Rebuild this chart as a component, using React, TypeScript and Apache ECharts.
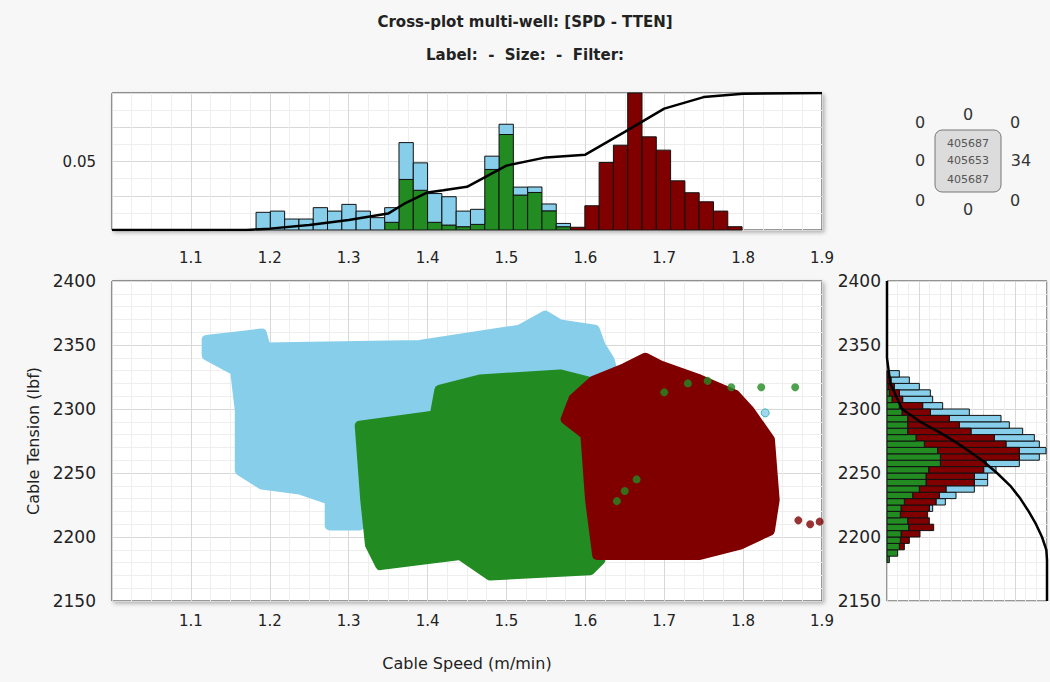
import React, { useEffect, useRef } from 'react'
import * as echarts from 'echarts'

// top histogram: SPD bins (m/min)
const spdBinStart = 1.1826
const spdBinWidth = 0.01812
const spdGreen = [0, 0, 0, 0, 0, 0, 0, 0, 0, 0.0056, 0.0369, 0.029, 0.0056, 0.0036, 0.0024, 0.0041, 0.0442, 0.0697, 0.0255, 0.0274, 0.014, 0.0024, 0, 0, 0, 0, 0, 0, 0, 0, 0, 0, 0, 0]
const spdBlue = [0.0129, 0.0138, 0.008, 0.008, 0.0163, 0.0138, 0.0187, 0.0138, 0.009, 0.0107, 0.0269, 0.02, 0.021, 0.0207, 0.0114, 0.011, 0.0097, 0.0075, 0.0058, 0.004, 0.005, 0.0024, 0, 0, 0, 0, 0, 0, 0, 0, 0, 0, 0, 0]
const spdRed = [0, 0, 0, 0, 0, 0, 0, 0, 0, 0, 0, 0, 0, 0, 0, 0, 0, 0, 0, 0, 0, 0, 0.002, 0.0177, 0.0493, 0.0619, 0.1, 0.068, 0.0583, 0.0359, 0.0272, 0.0206, 0.0138, 0.0024]
const spdCdf = [[1.0, 0], [1.17, 0], [1.2, 0.001], [1.25, 0.0036], [1.3, 0.0073], [1.35, 0.012], [1.37, 0.019], [1.4, 0.0274], [1.42, 0.029], [1.45, 0.0315], [1.5, 0.047], [1.55, 0.053], [1.6, 0.055], [1.65, 0.0716], [1.7, 0.0886], [1.75, 0.097], [1.8, 0.0995], [1.9, 0.1]]

// right histogram: TTEN bins (lbf), cumulative ends (green, +red, +blue)
const ttenBins = [2180, 2185, 2190, 2195, 2200, 2205, 2210, 2215, 2220, 2225, 2230, 2235, 2240, 2245, 2250, 2255, 2260, 2265, 2270, 2275, 2280, 2285, 2290, 2295, 2300, 2305, 2310, 2315, 2320, 2325]
const ttenGreen = [7, 32, 37, 40, 42, 65, 62, 40, 42, 52, 77, 97, 117, 117, 125, 160, 160, 152, 112, 87, 62, 62, 62, 45, 37, 15, 7, 3, 0, 0]
const ttenRedEnd = [7, 32, 52, 67, 99, 140, 127, 122, 127, 147, 157, 177, 262, 262, 290, 297, 397, 397, 357, 322, 252, 217, 187, 130, 107, 47, 37, 22, 12, 7]
const ttenBlueEnd = [7, 32, 52, 67, 99, 140, 127, 122, 137, 175, 207, 262, 302, 302, 327, 397, 457, 477, 457, 442, 407, 367, 342, 247, 167, 137, 130, 97, 67, 37]
const ttenCdf = [[2400, 0], [2340, 0], [2320, 10], [2300, 45], [2290, 100], [2280, 170], [2270, 230], [2260, 285], [2250, 330], [2240, 370], [2230, 400], [2220, 425], [2210, 447], [2200, 465], [2190, 478], [2182, 480], [2150, 480]]

// cross-plot cloud outlines (SPD, TTEN)
const blueCloud = [[1.12, 2354], [1.19, 2359], [1.195, 2348], [1.39, 2350], [1.517, 2362], [1.549, 2373], [1.568, 2366], [1.612, 2362], [1.619, 2350], [1.631, 2338], [1.637, 2323], [1.6, 2300], [1.4, 2260], [1.314, 2209], [1.276, 2209], [1.276, 2229], [1.238, 2237], [1.19, 2241], [1.162, 2252], [1.162, 2299], [1.156, 2330], [1.12, 2342]]
const greenCloud = [[1.314, 2287], [1.409, 2295], [1.415, 2315], [1.466, 2323], [1.568, 2327], [1.619, 2319], [1.619, 2182], [1.606, 2174], [1.479, 2170], [1.441, 2186], [1.34, 2178], [1.327, 2194], [1.321, 2229]]
const redCloud = [[1.585, 2308], [1.61, 2322], [1.65, 2332], [1.676, 2340], [1.695, 2334], [1.745, 2323], [1.79, 2311], [1.808, 2299], [1.834, 2276], [1.84, 2229], [1.834, 2205], [1.796, 2194], [1.745, 2186], [1.615, 2186], [1.606, 2229], [1.6, 2280], [1.575, 2292]]
const redDots = [[1.87, 2213], [1.885, 2210], [1.897, 2212], [1.82, 2218]]
const greenDots = [[1.65, 2236], [1.665, 2245], [1.64, 2228], [1.73, 2320], [1.755, 2322], [1.785, 2317], [1.823, 2317], [1.866, 2317], [1.7, 2313]]
const blueDots = [[1.828, 2297]]

const BLUE = '#87ceeb'
const GREEN = '#228b22'
const RED = '#800000'
const FONT = 'DejaVu Sans'

const App: React.FC = () => {
  const ref = useRef<HTMLDivElement>(null)

  useEffect(() => {
    if (!ref.current) return
    const chart = echarts.init(ref.current, undefined, { renderer: 'svg' })

    // stacked bins for top histogram
    const topBars = (vals: number[], bases: number[][]) =>
      vals.map((v, i) => {
        const base = bases.reduce((s, b) => s + b[i], 0)
        const x0 = spdBinStart + i * spdBinWidth
        return [x0, x0 + spdBinWidth, base, base + v]
      }).filter(d => d[3] > d[2])

    const topRender = (color: string) => (params: any, api: any) => {
      const p0 = api.coord([api.value(0), api.value(3)])
      const p1 = api.coord([api.value(1), api.value(2)])
      return { type: 'rect', shape: { x: p0[0], y: p0[1], width: p1[0] - p0[0], height: p1[1] - p0[1] }, style: { fill: color, stroke: '#111', lineWidth: 1 } }
    }

    const rightBars = (ends: number[], starts: number[]) =>
      ttenBins.map((y, i) => [y, y + 5, starts[i], ends[i]]).filter(d => d[3] > d[2])

    const rightRender = (color: string) => (params: any, api: any) => {
      const p0 = api.coord([api.value(2), api.value(1)])
      const p1 = api.coord([api.value(3), api.value(0)])
      return { type: 'rect', shape: { x: p0[0], y: p0[1], width: p1[0] - p0[0], height: p1[1] - p0[1] }, style: { fill: color, stroke: '#111', lineWidth: 1 } }
    }

    const cloud = (pts: number[][], color: string) => ({
      type: 'custom', xAxisIndex: 1, yAxisIndex: 1, data: [[pts[0][0], pts[0][1]]],
      renderItem: (params: any, api: any) => ({
        type: 'polygon',
        shape: { points: pts.map(p => api.coord(p)) },
        style: { fill: color, stroke: color, lineWidth: 10, lineJoin: 'round' },
      }),
    })

    const minor = { show: true, lineStyle: { color: '#eeeeee' } }
    const split = { show: true, lineStyle: { color: '#d8d8d8' } }
    const lbl = { color: '#222', fontFamily: FONT, fontSize: 15 }

    chart.setOption({
      animation: false,
      backgroundColor: '#f7f7f7',
      title: [
        { text: 'Cross-plot multi-well: [SPD - TTEN]', left: 'center', top: 9, textStyle: { fontFamily: FONT, fontSize: 15, fontWeight: 'bold', color: '#222' } },
        { text: 'Label:  -  Size:  -  Filter:', left: 'center', top: 42, textStyle: { fontFamily: FONT, fontSize: 15, fontWeight: 'bold', color: '#222' } },
      ],
      grid: [
        { left: 112, top: 93, width: 710, height: 137, show: true, backgroundColor: '#fff', borderColor: '#333', shadowColor: 'rgba(0,0,0,0.3)', shadowBlur: 4, shadowOffsetX: 2, shadowOffsetY: 2 },
        { left: 112, top: 281, width: 710, height: 320, show: true, backgroundColor: '#fff', borderColor: '#333', shadowColor: 'rgba(0,0,0,0.3)', shadowBlur: 4, shadowOffsetX: 2, shadowOffsetY: 2 },
        { left: 887, top: 281, width: 160, height: 320, show: true, backgroundColor: '#fff', borderColor: '#333' },
      ],
      xAxis: [
        { gridIndex: 0, type: 'value', min: 1.0, max: 1.9, interval: 0.1, axisLine: { show: false }, axisTick: { show: false }, splitLine: split, minorTick: { show: false, splitNumber: 4 }, minorSplitLine: minor, axisLabel: { ...lbl, margin: 20, formatter: (v: number) => (v < 1.05 ? '' : v.toFixed(1)) } },
        { gridIndex: 1, type: 'value', min: 1.0, max: 1.9, interval: 0.1, name: 'Cable Speed (m/min)', nameLocation: 'middle', nameGap: 54, nameTextStyle: { ...lbl, fontSize: 16 }, axisLine: { show: false }, axisTick: { show: false }, splitLine: split, minorTick: { show: false, splitNumber: 4 }, minorSplitLine: minor, axisLabel: { ...lbl, margin: 12, formatter: (v: number) => (v < 1.05 ? '' : v.toFixed(1)) } },
        { gridIndex: 2, type: 'value', min: 0, max: 480, interval: 96, axisLine: { show: false }, axisTick: { show: false }, axisLabel: { show: false }, splitLine: split, minorTick: { show: false, splitNumber: 3 }, minorSplitLine: minor },
      ],
      yAxis: [
        { gridIndex: 0, type: 'value', min: 0, max: 0.1, interval: 0.025, axisLine: { show: false }, axisTick: { show: false }, splitLine: split, minorTick: { show: false, splitNumber: 2 }, minorSplitLine: minor, axisLabel: { ...lbl, margin: 16, formatter: (v: number) => (Math.abs(v - 0.05) < 1e-6 ? '0.05' : '') } },
        { gridIndex: 1, type: 'value', min: 2150, max: 2400, interval: 50, name: 'Cable Tension (lbf)', nameLocation: 'middle', nameGap: 68, nameTextStyle: { ...lbl, fontSize: 16 }, axisLine: { show: false }, axisTick: { show: false }, splitLine: split, minorTick: { show: false, splitNumber: 5 }, minorSplitLine: minor, axisLabel: { ...lbl, fontSize: 17, margin: 16, formatter: (v: number) => String(v) } },
        { gridIndex: 2, type: 'value', min: 2150, max: 2400, interval: 50, axisLine: { show: false }, axisTick: { show: false }, splitLine: split, minorTick: { show: false, splitNumber: 5 }, minorSplitLine: minor, axisLabel: { ...lbl, fontSize: 17, margin: 6, formatter: (v: number) => String(v) } },
      ],
      series: [
        { type: 'custom', xAxisIndex: 0, yAxisIndex: 0, encode: { x: [0, 1], y: [2, 3] }, data: topBars(spdGreen, []), renderItem: topRender(GREEN) },
        { type: 'custom', xAxisIndex: 0, yAxisIndex: 0, encode: { x: [0, 1], y: [2, 3] }, data: topBars(spdBlue, [spdGreen]), renderItem: topRender(BLUE) },
        { type: 'custom', xAxisIndex: 0, yAxisIndex: 0, encode: { x: [0, 1], y: [2, 3] }, data: topBars(spdRed, [spdGreen, spdBlue]), renderItem: topRender(RED) },
        { type: 'line', xAxisIndex: 0, yAxisIndex: 0, data: spdCdf, showSymbol: false, lineStyle: { color: '#000', width: 2.5 } },
        cloud(blueCloud, BLUE),
        cloud(greenCloud, GREEN),
        cloud(redCloud, RED),
        { type: 'scatter', xAxisIndex: 1, yAxisIndex: 1, data: redDots, symbolSize: 8, itemStyle: { color: RED } },
        { type: 'scatter', xAxisIndex: 1, yAxisIndex: 1, data: greenDots, symbolSize: 8, itemStyle: { color: GREEN } },
        { type: 'scatter', xAxisIndex: 1, yAxisIndex: 1, data: blueDots, symbolSize: 8, itemStyle: { color: BLUE, borderColor: '#2aa', borderWidth: 1 } },
        { type: 'custom', xAxisIndex: 2, yAxisIndex: 2, encode: { x: [2, 3], y: [0, 1] }, data: rightBars(ttenBlueEnd, ttenRedEnd), renderItem: rightRender(BLUE) },
        { type: 'custom', xAxisIndex: 2, yAxisIndex: 2, encode: { x: [2, 3], y: [0, 1] }, data: rightBars(ttenRedEnd, ttenGreen), renderItem: rightRender(RED) },
        { type: 'custom', xAxisIndex: 2, yAxisIndex: 2, encode: { x: [2, 3], y: [0, 1] }, data: rightBars(ttenGreen, ttenBins.map(() => 0)), renderItem: rightRender(GREEN) },
        { type: 'line', xAxisIndex: 2, yAxisIndex: 2, data: ttenCdf.map(p => [p[1], p[0]]), showSymbol: false, lineStyle: { color: '#000', width: 2.5 } },
      ],
      graphic: [
        { type: 'rect', shape: { x: 935, y: 130, width: 66, height: 62, r: 7 }, style: { fill: '#dcdcdc', stroke: '#777', lineWidth: 1 } },
        { type: 'text', x: 968, y: 143, style: { text: '405687', fill: '#555', font: `11px ${FONT}`, align: 'center', verticalAlign: 'middle' } },
        { type: 'text', x: 968, y: 160, style: { text: '405653', fill: '#555', font: `11px ${FONT}`, align: 'center', verticalAlign: 'middle' } },
        { type: 'text', x: 968, y: 179, style: { text: '405687', fill: '#555', font: `11px ${FONT}`, align: 'center', verticalAlign: 'middle' } },
        ...[[920, 122, '0'], [968, 114, '0'], [1015, 122, '0'], [920, 160, '0'], [1021, 160, '34'], [920, 200, '0'], [968, 209, '0'], [1015, 200, '0']].map(([x, y, t]) => ({
          type: 'text', x, y, style: { text: t, fill: '#333', font: `16px ${FONT}`, align: 'center', verticalAlign: 'middle' },
        })),
      ],
    })
    return () => chart.dispose()
  }, [])

  return <div ref={ref} style={{ position: 'fixed', left: 0, top: 0, width: 1050, height: 682 }} />
}

export default App
